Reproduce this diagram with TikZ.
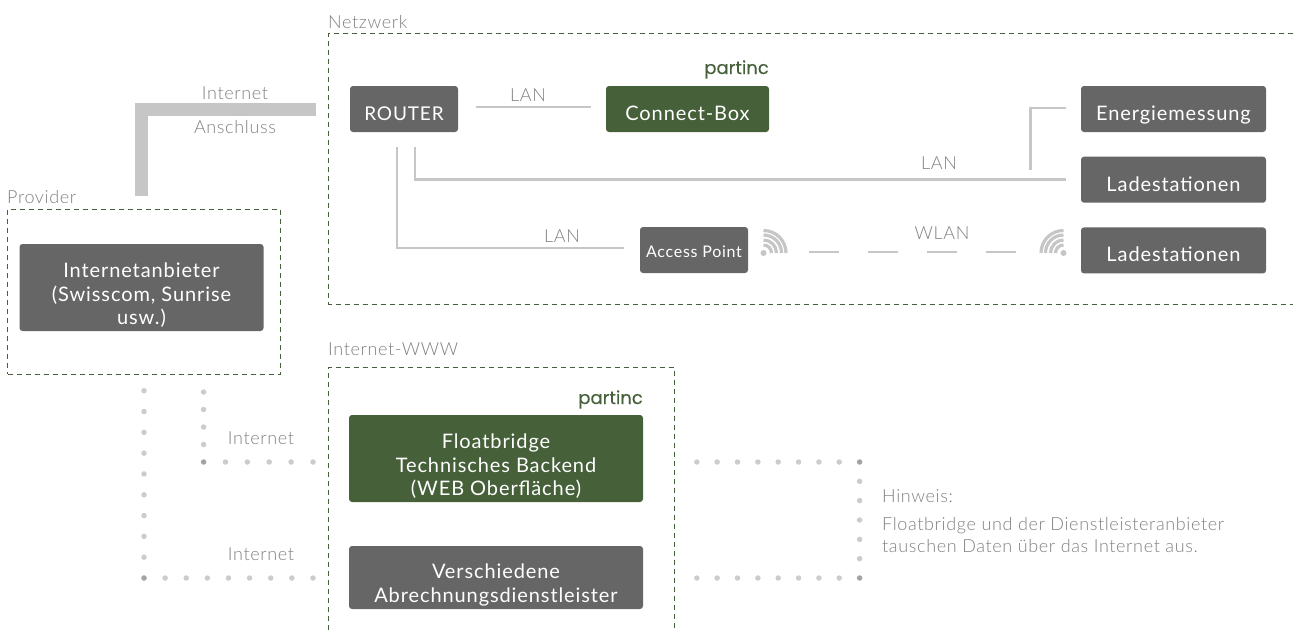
\documentclass[tikz,border=0pt]{standalone}
\usepackage{fontspec}
\setmainfont{Lato}[LetterSpace=4.5]
\newfontfamily\lightfont{Lato Light}[LetterSpace=3.5]
\newfontfamily\logofont{Poppins}[FakeBold=0.15]
\usetikzlibrary{calc}
\usetikzlibrary{positioning}
\definecolor{bxgray}{HTML}{666666}
\definecolor{bxgreen}{HTML}{46603A}
\definecolor{lngray}{HTML}{C6C6C6}
\definecolor{txgray}{HTML}{808080}
\newcommand{\topgap}{\rule{0pt}{30pt}}
\tikzstyle{bx}=[rectangle, fill=bxgray, rounded corners=3pt, text=white, align=center, inner sep=0pt,
font=\fontsize{20}{23.5}\selectfont]
\tikzstyle{bxg}=[bx, fill=bxgreen]
\tikzstyle{one}=[text height=25pt, text depth=2pt, minimum height=46pt]
\tikzstyle{lbl}=[text=txgray, inner sep=0pt, font=\lightfont\fontsize{18}{22}\selectfont]
\tikzstyle{logo}=[text=bxgreen, inner sep=0pt, font=\logofont\fontsize{18}{18}\selectfont]
\tikzstyle{frame}=[draw=bxgreen, line width=1pt, dash pattern=on 5pt off 4pt]
\tikzstyle{lan}=[draw=lngray, line width=2.6pt]
\tikzstyle{dotln}=[draw=black, opacity=0.2, line width=5.5pt, line cap=round]
\tikzstyle{wifi}=[draw=lngray, line width=3.2pt]

\begin{document}
\begin{tikzpicture}[x=1pt,y=-1pt]
\useasboundingbox (0,0) rectangle (1293,630);

% frames
\draw[frame] (1293,33.5) -- (328.5,33.5) -- (328.5,304) -- (1293,304);
\draw[frame] (328.5,630) -- (328.5,367) -- (674,367) -- (674,630);
\node[frame, minimum width=272.5pt, minimum height=165pt, inner sep=0pt] (pv) at (144,291.5) {};
\node[lbl, anchor=west] (lnw) at (328,22) {Netzwerk};
\node[lbl, anchor=west] (lpv) at (7,197) {Provider};
\node[lbl, anchor=west] (lww) at (328,349) {Internet-WWW};

% boxes
\node[bx, one, minimum width=108pt, font=\fontsize{19}{23.5}\selectfont] (rt) at (404,109) {ROUTER};
\node[bxg, one, minimum width=163pt] (cb) at (687.5,109) {Connect-Box};
\node[bx, one, minimum width=185pt] (em) at (1173.5,109) {Energiemessung};
\node[bx, one, minimum width=185pt, below=24.3pt of em] (ls1) {Ladestationen};
\node[bx, one, minimum width=185pt, below=24.3pt of ls1] (ls2) {Ladestationen};
\node[bx, minimum width=108pt, minimum height=46pt, text height=16pt, text depth=2pt,
  font=\fontsize{16}{16}\selectfont] (ap) at (694,250) {Access Point};
\node[bx, minimum width=244pt, minimum height=87pt] (ia) at (141.5,287.5) {\topgap Internetanbieter\\(Swisscom, Sunrise\\usw.)};
\node[bxg, minimum width=294pt, minimum height=87pt] (fb) at (496,458.5) {\topgap Floatbridge\\Technisches Backend\\(WEB Oberfl\"ache)};
\node[bx, minimum width=294pt, minimum height=63pt] (va) at (496,577.5) {\topgap Verschiedene\\Abrechnungsdienstleister};
\node[logo, anchor=base east] (lg1) at (769,74) {partinc};
\node[logo, anchor=base east] (lg2) at (643,404) {partinc};

% Anschluss
\coordinate (a1) at (141.3,196);
\coordinate (a2) at (315.5,109);
\draw[lngray, line width=13pt] (a1) |- (a2);
\node[lbl] (lin) at (235,93) {Internet};
\node[lbl] (lan) at (235,127) {Anschluss};

% LAN
\draw[lan, shorten <=17.5pt, shorten >=15pt] ([yshift=2pt]rt.east) -- ([yshift=2pt]cb.west);
\draw[lan, shorten <=15pt, shorten >=14.5pt] ([xshift=11pt]rt.south) |- (ls1.west);
\draw[lan, shorten <=15pt, shorten >=15.5pt] ([xshift=-7pt]rt.south) |- ([yshift=2pt]ap.west);
\coordinate (em1) at (1030.4,170);
\draw[lan, shorten <=14.5pt] ([yshift=1pt]em.west) -| (em1);
\node[lbl] (l1) at (528,95) {LAN};
\node[lbl] (l2) at (939,163) {LAN};
\node[lbl] (l3) at (562,236) {LAN};

% WLAN
\node[circle, fill=lngray, inner sep=0pt, minimum size=6pt] (wl) at (763.5,253) {};
\node[circle, fill=lngray, inner sep=0pt, minimum size=6pt] (wr) at (1063.5,253) {};
\foreach \r in {8,13,18,22.5}{
  \draw[wifi] ($(wl)+(\r pt,0pt)$) arc[start angle=0, end angle=90, radius=\r pt];
  \draw[wifi] ($(wr)+(-\r pt,0pt)$) arc[start angle=180, end angle=90, radius=\r pt];
}
\foreach \x in {809,868,927,986}{
  \draw[lan] (\x,252) -- +(29.5,0);
}
\node[lbl] (lwl) at (942,233) {WLAN};

% Internet dots
\coordinate (d1) at (144,390.7);
\coordinate (d2) at (144,578);
\coordinate (d3) at (313,578);
\coordinate (d4) at (203.6,392);
\coordinate (d5) at (203.6,462);
\coordinate (d6) at (313,462);
\draw[dotln, dash pattern=on 0pt off 20.81pt] (d1) -- (d2);
\draw[dotln, dash pattern=on 0pt off 21.12pt] (d2) -- (d3);
\draw[dotln, dash pattern=on 0pt off 17.5pt] (d4) -- (d5);
\draw[dotln, dash pattern=on 0pt off 21.88pt] (d5) -- (d6);
\node[lbl] (li1) at (261,438) {Internet};
\node[lbl] (li2) at (261,554) {Internet};

% Hinweis dots
\coordinate (h1) at (696.8,462);
\coordinate (h2) at (859.6,462);
\coordinate (h3) at (859.6,578);
\coordinate (h4) at (696.8,578);
\draw[dotln, dash pattern=on 0pt off 20.35pt] (h1) -- (h2);
\draw[dotln, dash pattern=on 0pt off 19.33pt] (h2) -- (h3);
\draw[dotln, dash pattern=on 0pt off 20.35pt] (h4) -- (h3);
\node[lbl, anchor=west, align=left] (hw) at (882,521) {Hinweis:\\[6pt]Floatbridge und der Dienstleisteranbieter\\tauschen Daten \"uber das Internet aus.};
\end{tikzpicture}
\end{document}
